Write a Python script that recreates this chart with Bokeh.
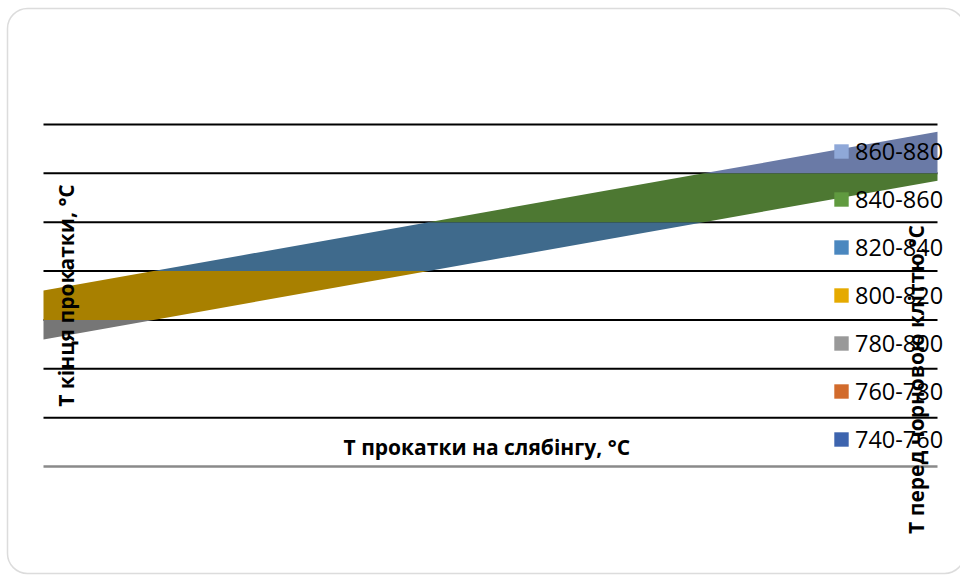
import numpy as np
from bokeh.plotting import figure
from bokeh.models import Range1d, Label, Legend, LegendItem, BoxAnnotation
from bokeh.embed import file_html
from bokeh.resources import INLINE

# Surface sampled along the slab-rolling temperature axis (start, end):
# front and back edges of the surface, in °C of finish-rolling temperature
edge_pos = [0.0, 1.0]
front_edge = [792, 857]
back_edge = [812, 877]

# Contour bands of the surface
band_edges = [740, 760, 780, 800, 820, 840, 860, 880]
band_labels = ["740-760", "760-780", "780-800", "800-820",
               "820-840", "840-860", "860-880"]
# shaded surface colours and legend swatch colours, per band
band_fill = ["#34569a", "#b45a22", "#767676", "#a88000",
             "#3f6a8c", "#4d7832", "#6a7aa6"]
band_key = ["#3d64ae", "#d26b2c", "#999999", "#e5aa00",
            "#4a87bf", "#609a3f", "#8fa8d8"]

x_title = "Т  прокатки на слябінгу, °С"
y_title = "Т кінця прокатки, °С"
z_title = "Т перед чорновою кліттю,°С"


def clip(poly, level, keep_above):
    """Clip a polygon against a horizontal line (Sutherland-Hodgman)."""
    out = []
    n = len(poly)
    for i in range(n):
        cur, prev = poly[i], poly[i - 1]
        c_in = cur[1] >= level if keep_above else cur[1] <= level
        p_in = prev[1] >= level if keep_above else prev[1] <= level
        if c_in != p_in:
            t = (level - prev[1]) / (cur[1] - prev[1])
            out.append((prev[0] + t * (cur[0] - prev[0]), level))
        if c_in:
            out.append(cur)
    return out


strip = [(edge_pos[0], front_edge[0]), (edge_pos[1], front_edge[1]),
         (edge_pos[1], back_edge[1]), (edge_pos[0], back_edge[0])]

xs, ys, cols = [], [], []
for lo, hi, col in zip(band_edges[:-1], band_edges[1:], band_fill):
    piece = clip(clip(strip, lo, True), hi, False)
    if len(piece) >= 3:
        xs.append([pt[0] for pt in piece])
        ys.append([pt[1] for pt in piece])
        cols.append(col)

# The plot area fills the whole canvas; the ranges put the surface span
# (0..1) at 43..937 px and the contour levels 740..880 at 466..124 px.
W, H = 960, 575
px_x = (937 - 43) / (edge_pos[1] - edge_pos[0])
px_y = (466 - 124) / (band_edges[-1] - band_edges[0])
x0 = edge_pos[0] - 43 / px_x
x1 = edge_pos[1] + (W - 937) / px_x
y0 = band_edges[0] - (H - 466) / px_y
y1 = band_edges[-1] + 124 / px_y

p = figure(width=W, height=H, output_backend="svg", toolbar_location=None,
           x_range=Range1d(x0, x1), y_range=Range1d(y0, y1),
           min_border=0)
p.outline_line_color = None
p.background_fill_color = "white"
p.border_fill_color = "white"
p.axis.visible = False
p.grid.visible = False

# contour levels as horizontal rules behind the surface; the lowest is the floor
rule_col = ["#8a8a8a"] + ["black"] * (len(band_edges) - 1)
rule_w = [2.5] + [2] * (len(band_edges) - 1)
p.segment(x0=edge_pos[0], x1=edge_pos[1], y0=band_edges, y1=band_edges,
          line_color=rule_col, line_width=rule_w)

p.patches(xs=xs, ys=ys, fill_color=cols, line_color=None)

# legend swatches (one per band, top to bottom)
items = []
for lo, hi, lab, col in reversed(list(zip(band_edges[:-1], band_edges[1:],
                                          band_labels, band_key))):
    r = p.quad(left=[edge_pos[0]], right=[edge_pos[0]], bottom=[lo], top=[hi],
               fill_color=col, line_color=None)
    items.append(LegendItem(label=lab, renderers=[r]))

legend = Legend(items=items, location=(832, 119), spacing=14, padding=0,
                margin=0, glyph_width=18, glyph_height=18,
                label_standoff=5, label_height=34, border_line_color=None,
                background_fill_alpha=0,
                label_text_font="Open Sans", label_text_font_size="23.5px",
                label_text_color="black")
p.add_layout(legend)

title_style = dict(text_font="Open Sans", text_font_style="bold",
                   text_font_size="21px", text_color="black",
                   text_align="center", text_baseline="middle")
p.add_layout(Label(x=x0 + 489 / px_x, y=y1 - 446 / px_y, text=x_title,
                   **title_style))
p.add_layout(Label(x=x0 + 65 / px_x, y=y1 - 295 / px_y, text=y_title,
                   angle=np.pi / 2, **title_style))
p.add_layout(Label(x=x0 + 915 / px_x, y=y1 - 379 / px_y, text=z_title,
                   angle=np.pi / 2, **title_style))

# rounded outer frame of the chart
p.add_layout(BoxAnnotation(left=x0 + 7 / px_x, right=x1 + 4 / px_x,
                           top=y1 - 8 / px_y, bottom=y1 - 573 / px_y,
                           fill_alpha=0, line_color="#8c8c8c", line_width=1.5,
                           border_radius=20))

open("out.html", "w").write(file_html(p, INLINE))
